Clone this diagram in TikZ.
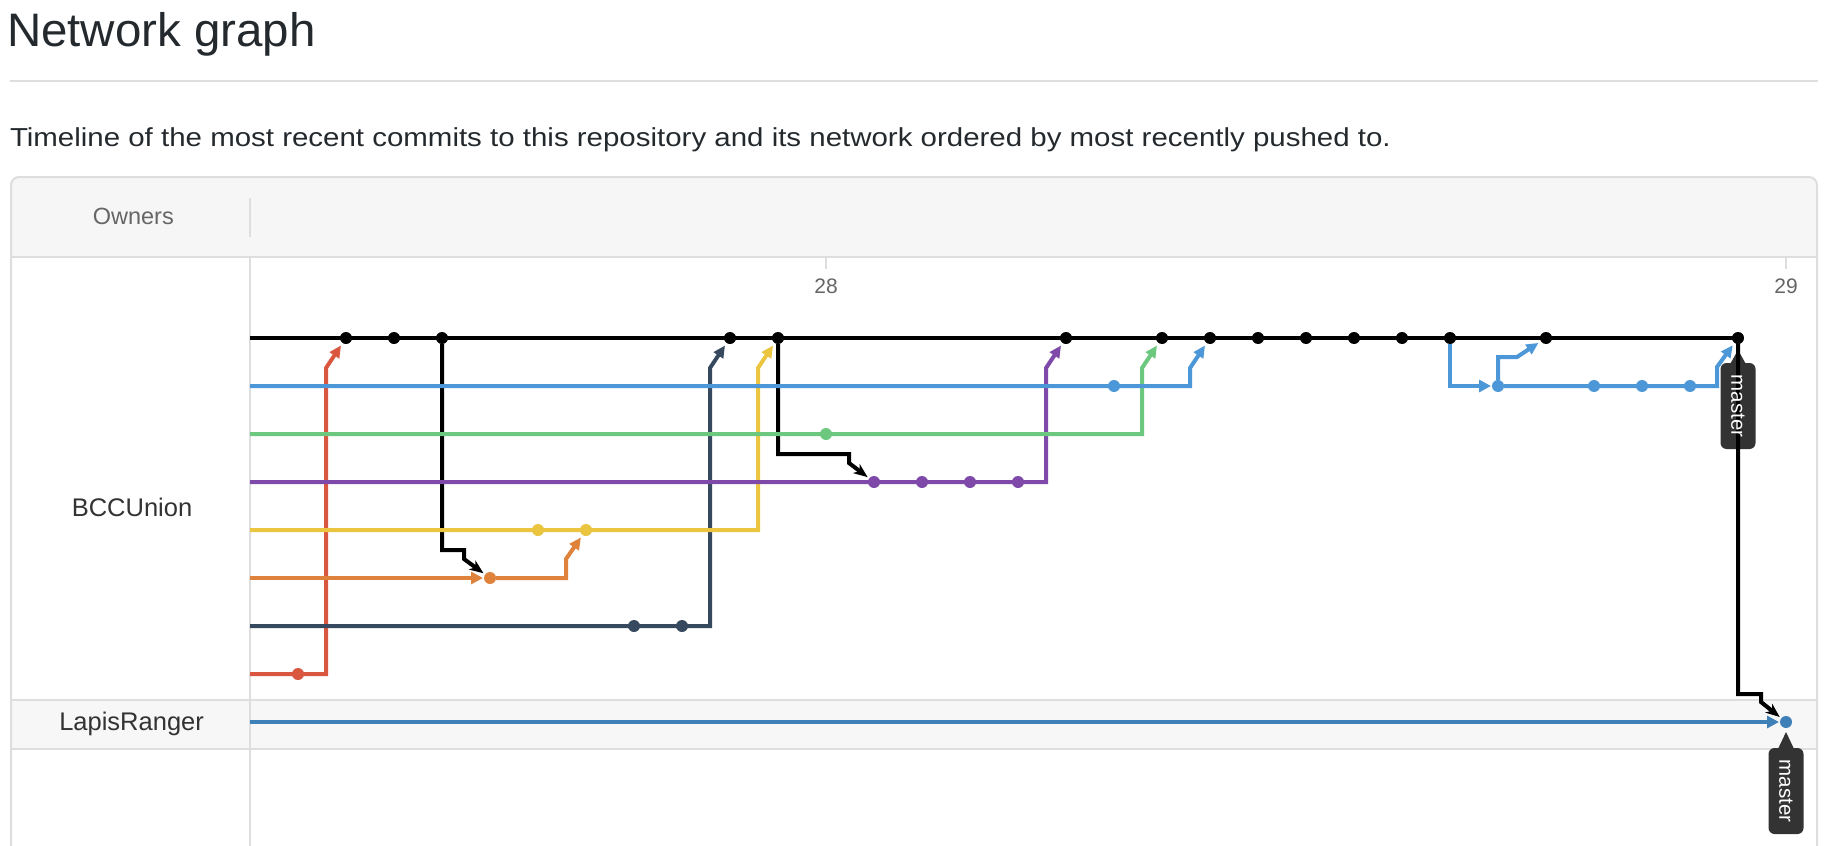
\documentclass[tikz,border=0pt]{standalone}
\usepackage{fontspec}
\setmainfont{Liberation Sans}
\usetikzlibrary{arrows.meta,calc}
\pgfdeclarelayer{back}
\pgfdeclarelayer{lab}
\pgfdeclarelayer{lines}
\pgfsetlayers{back,lab,lines,main}
\definecolor{ink}{HTML}{24292E}
\definecolor{owner}{HTML}{333333}
\definecolor{muted}{HTML}{666666}
\definecolor{rule}{HTML}{DEDEDE}
\definecolor{hdrbg}{HTML}{F6F6F6}
\definecolor{rowbg}{HTML}{F7F7F7}
\definecolor{cblk}{HTML}{000000}
\definecolor{cblue}{HTML}{4C97D7}
\definecolor{cgreen}{HTML}{6DC87F}
\definecolor{cpurple}{HTML}{7E49A8}
\definecolor{cyellow}{HTML}{EBC440}
\definecolor{corange}{HTML}{DF823B}
\definecolor{cnavy}{HTML}{36495F}
\definecolor{cred}{HTML}{D9573F}
\definecolor{clapis}{HTML}{3F80B9}
\definecolor{labbg}{HTML}{333333}
\begin{document}
\begin{tikzpicture}[x=1pt,y=-1pt,
  dot/.style={circle,inner sep=0pt,outer sep=0pt,minimum size=12pt,fill=#1},
  br/.style={line width=4pt,draw=#1,line join=miter},
  mrg/.style={-{Triangle[length=12pt,width=11pt]},shorten >=3pt},
  hz/.style={-{Triangle[length=12pt,width=12pt]},shorten >=1pt},
  dn/.style={-{Stealth[length=14pt,width=11pt,inset=4pt]},shorten >=2pt},
  txt/.style={inner sep=0pt,outer sep=0pt},
  lbl/.style={inner sep=0pt,rotate=-90,text=white,font=\fontsize{20.5}{24}\selectfont}
]
\useasboundingbox (0,0) rectangle (1834,846);

% ---------- texts ----------
\node[txt,anchor=base west,text=ink,font=\fontsize{47}{56}\selectfont] (title) at (7,46) {\scalebox{1.01}[1]{Network graph}};
\node[txt,anchor=base west,text=ink,font=\fontsize{26}{31}\selectfont] (sub) at (10,146)
  {\scalebox{1.133}[1]{Timeline of the most recent commits to this repository and its network ordered by most recently pushed to.}};
\node[txt,anchor=base,text=muted,font=\fontsize{23.5}{28}\selectfont] (owners) at (133.3,224.3) {Owners};
\node[txt,anchor=base,text=owner,font=\fontsize{25.5}{30}\selectfont] (bcc) at (132,516) {BCCUnion};
\node[txt,anchor=base,text=owner,font=\fontsize{25.5}{30}\selectfont] (lapis) at (131.6,730.7) {LapisRanger};
\node[txt,anchor=base,text=muted,font=\fontsize{21}{25}\selectfont] (t28) at (826,293.5) {28};
\node[txt,anchor=base,text=muted,font=\fontsize{21}{25}\selectfont] (t29) at (1786,293.5) {29};

% ---------- panel ----------
\begin{pgfonlayer}{back}
  \draw[rule,line width=2pt] (10,81) -- (1818,81);
  \fill[hdrbg,rounded corners=8pt] (11,177) rectangle (1817,300);
  \fill[white] (11,257) rectangle (1817,870);
  \fill[rowbg] (11,700) rectangle (1817,749);
  \draw[rule,line width=2pt] (11,257) -- (1817,257);
  \draw[rule,line width=2pt] (11,700) -- (1817,700);
  \draw[rule,line width=2pt] (11,749) -- (1817,749);
  \draw[rule,line width=2pt] (250,198) -- (250,237);
  \draw[rule,line width=2pt] (250,257) -- (250,870);
  \draw[rule,line width=1.5pt] (826,257) -- (826,269);
  \draw[rule,line width=1.5pt] (1786,257) -- (1786,269);
  \draw[rule,line width=2pt,rounded corners=8pt] (11,870) -- (11,177) -- (1817,177) -- (1817,870);
\end{pgfonlayer}

% ---------- commit dots ----------
\foreach \c in {2,3,4,10,11,17,19,20,21,22,23,24,25,27,31}
  \node[dot=cblk] (m\c) at ({250+48*\c},338) {};
\foreach \c in {18,26,28,29,30}
  \node[dot=cblue] (b\c) at ({250+48*\c},386) {};
\node[dot=cgreen] (g12) at ({250+48*12},434) {};
\foreach \c in {13,14,15,16}
  \node[dot=cpurple] (p\c) at ({250+48*\c},482) {};
\foreach \c in {6,7}
  \node[dot=cyellow] (y\c) at ({250+48*\c},530) {};
\node[dot=corange] (o5) at ({250+48*5},578) {};
\foreach \c in {8,9}
  \node[dot=cnavy] (n\c) at ({250+48*\c},626) {};
\node[dot=cred] (r1) at ({250+48*1},674) {};
\node[dot=clapis] (L32) at ({250+48*32},722) {};

% row starts
\coordinate (sm) at (250,338);
\coordinate (sb) at (250,386);
\coordinate (sg) at (250,434);
\coordinate (sp) at (250,482);
\coordinate (sy) at (250,530);
\coordinate (so) at (250,578);
\coordinate (sn) at (250,626);
\coordinate (sr) at (250,674);
\coordinate (sl) at (250,722);

% ---------- labels ----------
\begin{pgfonlayer}{lab}
  \fill[labbg] (1738,350) -- (1747,366) -- (1729,366) -- cycle;
  \fill[labbg,rounded corners=6pt] (1720.5,363) rectangle (1755.5,449);
  \fill[labbg] (1786,732) -- (1795,751) -- (1777,751) -- cycle;
  \fill[labbg,rounded corners=6pt] (1768.5,748) rectangle (1803.5,834);
  \node[lbl] (lab2) at (1786,791) {master};
\end{pgfonlayer}
\node[lbl] (lab1) at (1738,406) {master};

% ---------- branches ----------
\begin{pgfonlayer}{lines}
  \draw[br=cblk] (sm) -- (m31.center);
  % branches going down from master
  \draw[br=cblk,dn] (m4) |- ($(o5)+(-26,-28)$) -- ($(o5)+(-26,-19)$) -- (o5);
  \draw[br=cblk,dn] (m11) |- ($(p13)+(-25,-28)$) -- ($(p13)+(-25,-19)$) -- (p13);
  \draw[br=cblk,dn] (m31.center) |- ($(L32)+(-25,-28)$) -- ($(L32)+(-25,-20)$) -- (L32);
  % merges into master
  \draw[br=cred,mrg] (sr) -| ($(m2)+(-20,30)$) -- (m2);
  \draw[br=cnavy,mrg] (sn) -| ($(m10)+(-20,30)$) -- (m10);
  \draw[br=cyellow,mrg] (sy) -| ($(m11)+(-20,30)$) -- (m11);
  \draw[br=cpurple,mrg] (sp) -| ($(m17)+(-20,30)$) -- (m17);
  \draw[br=cgreen,mrg] (sg) -| ($(m19)+(-20,30)$) -- (m19);
  \draw[br=cblue,mrg] (sb) -| ($(m20)+(-20,30)$) -- (m20);
  % orange
  \draw[br=corange,hz] (so) -- (o5);
  \draw[br=corange,mrg] (o5) -| ($(y7)+(-20,29)$) -- (y7);
  % late blue branch
  \draw[br=cblue,hz] (m25) |- (b26);
  \draw[br=cblue,mrg] (b26) |- ($(m27)+(-29,19)$) -- (m27);
  \draw[br=cblue,mrg] (b26) -| ($(m31)+(-21,29)$) -- (m31);
  % LapisRanger
  \draw[br=clapis,hz] (sl) -- (L32);
\end{pgfonlayer}
\end{tikzpicture}
\end{document}
